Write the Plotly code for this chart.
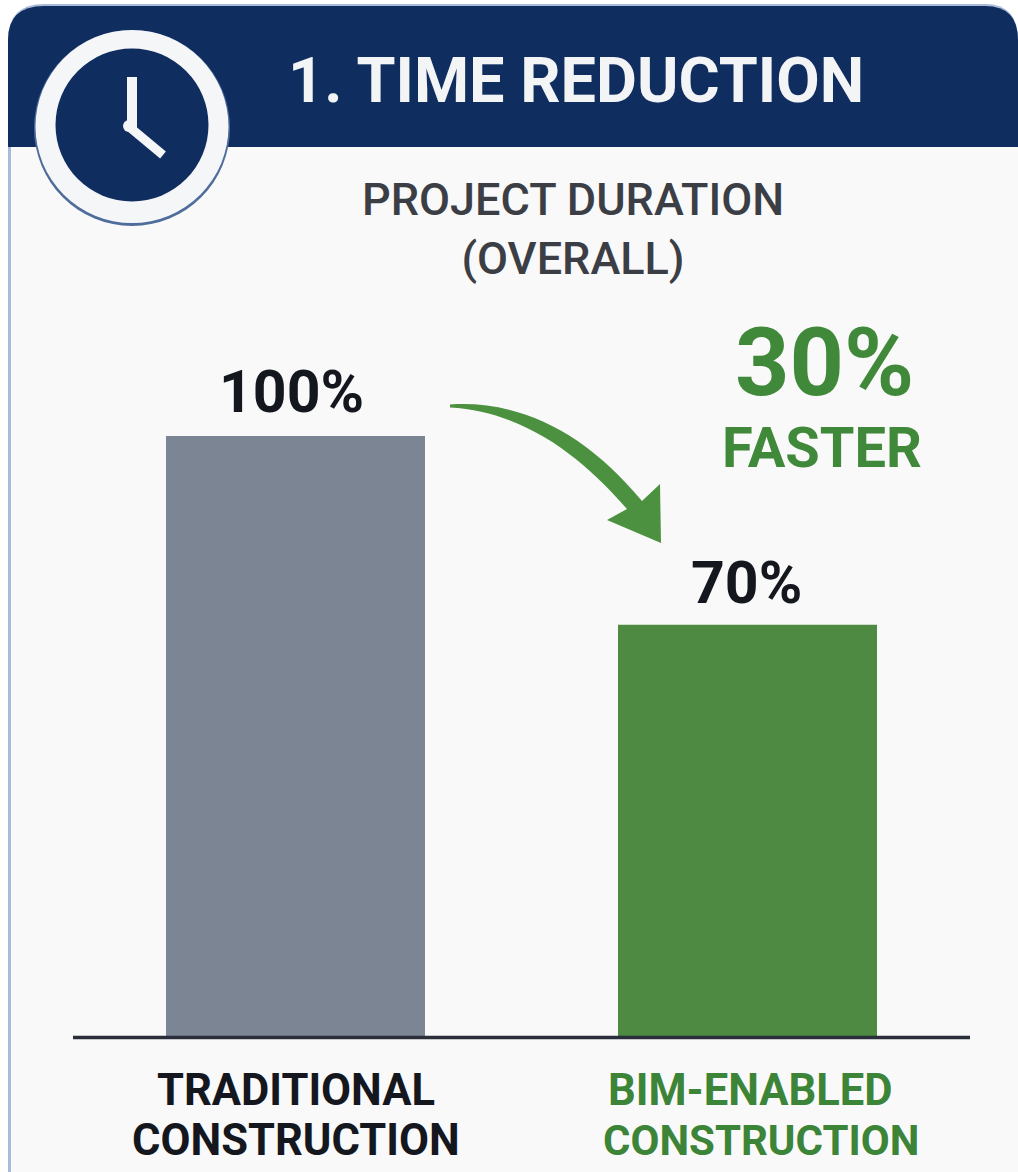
import plotly.graph_objects as go

categories = ["TRADITIONAL<br>CONSTRUCTION", "BIM-ENABLED<br>CONSTRUCTION"]
bar_heights = [100, 68.6]
bar_labels = ["100%", "70%"]
bar_colors = ["#7b8594", "#4e8a41"]
tick_colors = ["#15171f", "#3c8437"]
title = "1. TIME REDUCTION"
subtitle = "PROJECT DURATION<br>(OVERALL)"
callout_value = "30%"
callout_text = "FASTER"

W, H = 1018, 1172
NAVY = "#102d60"
FONT = "Roboto"


def px(x):
    return x / W


def py(y):
    return 1 - y / H


def P(x, y):
    return f"{px(x):.5f},{py(y):.5f}"


def path(cmds):
    return " ".join(c if isinstance(c, str) else P(*c) for c in cmds)


def shape_path(cmds, fill, layer="above"):
    return dict(type="path", xref="paper", yref="paper", path=path(cmds),
                fillcolor=fill, line=dict(width=0), layer=layer)


def circle(cx, cy, r, fill, layer="above"):
    return dict(type="circle", xref="paper", yref="paper", x0=px(cx - r), x1=px(cx + r),
                y0=py(cy + r), y1=py(cy - r), fillcolor=fill, line=dict(width=0), layer=layer)


def seg(x0, y0, x1, y1, color, width, layer="above"):
    return dict(type="line", xref="paper", yref="paper", x0=px(x0), x1=px(x1), y0=py(y0), y1=py(y1),
                line=dict(color=color, width=width), layer=layer)


shapes = [
    # card
    shape_path(["M", (8, 1172), "L", (8, 40), "Q", (8, 4), (44, 4), "L", (985, 4), "Q", (1018, 4), (1018, 40),
                "L", (1018, 1172), "Z"], "#a9bbd9", "below"),
    shape_path(["M", (11, 1172), "L", (11, 147), "L", (1018, 147), "L", (1018, 1172), "Z"], "#f9f9f9", "below"),
    # header band
    shape_path(["M", (8, 147), "L", (8, 40), "Q", (8, 6), (44, 6), "L", (985, 6), "Q", (1018, 6), (1018, 40),
                "L", (1018, 147), "Z"], NAVY, "below"),
    # clock badge
    circle(132, 128, 98, "#4f6d9c"),
    circle(132, 126.5, 96.5, "#f5f6f8"),
    circle(132, 125, 76.5, NAVY),
    seg(132, 77, 132, 128, "#f5f6f8", 10),
    seg(127, 125, 163, 155, "#f5f6f8", 9),
    circle(129, 126, 6, "#f5f6f8"),
    # baseline
    seg(73, 1037.5, 970, 1037.5, "#2a2e3b", 3.5),
    # arrow
    shape_path(["M", (450, 404.5), "C", (520, 400), (585, 432), (642, 501), "L", (660, 484), "L", (661, 543),
                "L", (607, 520), "L", (627, 509), "C", (588, 464), (530, 412), (450, 407.5), "Z"], "#4c9140"),
]


def ann(text, x, y, size, color, weight=700):
    return dict(text=text, x=px(x), y=py(y), xref="paper", yref="paper", xanchor="center", yanchor="middle",
                showarrow=False, font=dict(family=FONT, size=size, color=color, weight=weight))


annotations = [
    ann(title, 576, 80, 63, "#f3f4f6"),
    ann(subtitle, 573, 228.5, 45, "#3c3e45", 500),
    ann(callout_value, 824, 362, 95, "#41893a"),
    ann(callout_text, 822, 448, 56, "#41893a"),
]

# value labels sit on the bars through the axis scales
for i, (cat, h, lab) in enumerate(zip(categories, bar_heights, bar_labels)):
    annotations.append(dict(text=lab, x=cat, y=h, xref="x", yref="y", xanchor="center", yanchor="middle",
                            yshift=[45, 42][i], xshift=[-4.5, -1][i], showarrow=False,
                            font=dict(family=FONT, size=59, color="#15171f", weight=700)))

# two-line category labels, placed line by line for the tight leading
line_y = [1090, 1140]
line_shift = [[0, 0], [3, 13]]
line_size = [[43.5, 43.5], [43.5, 42]]
for i, (cat, col) in enumerate(zip(categories, tick_colors)):
    for j, line in enumerate(cat.split("<br>")):
        annotations.append(dict(text=line, x=cat, y=py(line_y[j]), xref="x", yref="paper", xanchor="center",
                                yanchor="middle", xshift=line_shift[i][j], showarrow=False,
                                font=dict(family=FONT, size=line_size[i][j], color=col, weight=700)))

fig = go.Figure(go.Bar(
    x=categories, y=bar_heights, marker=dict(color=bar_colors, line=dict(width=0)),
    hoverinfo="skip",
))

fig.update_layout(
    width=W, height=H, margin=dict(l=0, r=0, t=0, b=0), autosize=False,
    paper_bgcolor="#ffffff", plot_bgcolor="rgba(0,0,0,0)", showlegend=False,
    bargap=1 - 259 / 452,
    shapes=shapes, annotations=annotations,
    xaxis=dict(domain=[px(69.5), px(973.5)], type="category", showticklabels=False, showline=False,
               showgrid=False, zeroline=False, ticks="", automargin=False),
    yaxis=dict(domain=[py(1037), py(100)], range=[0, 937 / 601 * 100], visible=False, fixedrange=True),
)

fig.write_html("out.html", post_script="document.body.style.margin='0';",
               config={"displayModeBar": False})
